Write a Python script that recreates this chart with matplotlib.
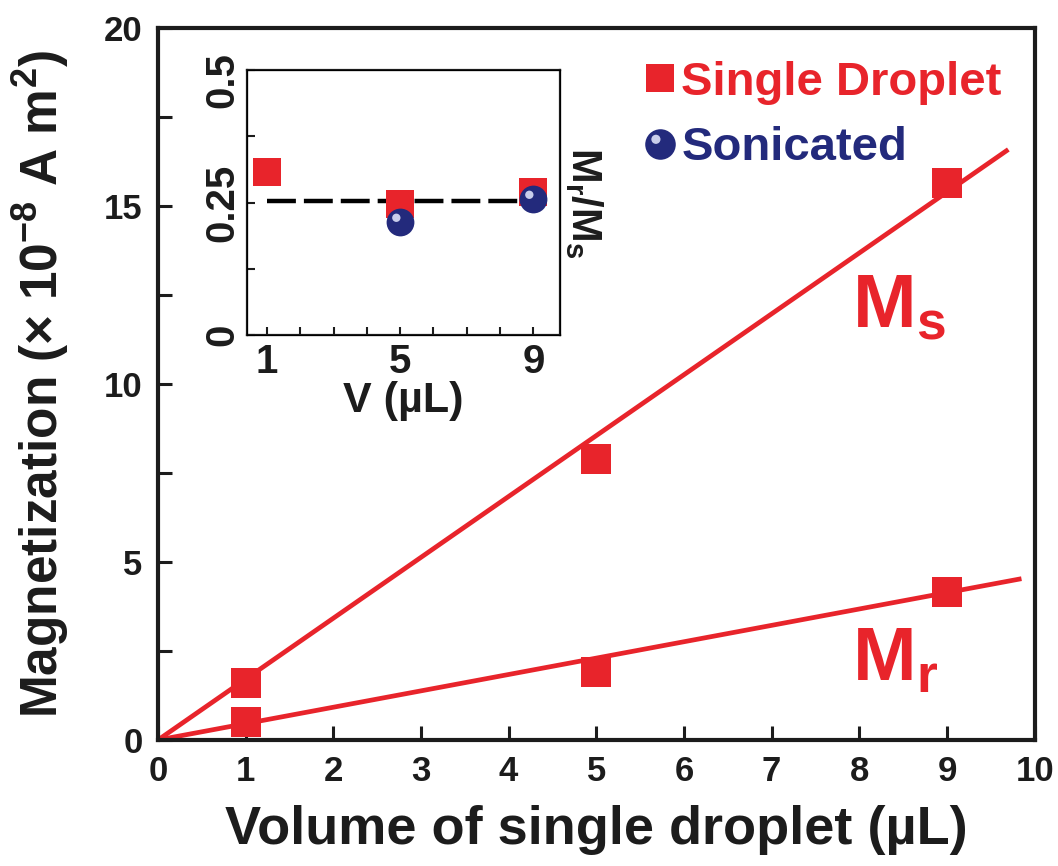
import numpy as np
import matplotlib
matplotlib.use("Agg")
import matplotlib.pyplot as plt
import matplotlib.transforms as mtransforms
from matplotlib.lines import Line2D
from matplotlib.path import Path
from matplotlib.ticker import MultipleLocator

plt.rcParams['font.family'] = ['Liberation Sans', 'DejaVu Sans']
plt.rcParams['font.weight'] = 'bold'
plt.rcParams['axes.labelweight'] = 'bold'
plt.rcParams['mathtext.fontset'] = 'custom'
plt.rcParams['mathtext.rm'] = 'Liberation Sans:bold'
plt.rcParams['mathtext.bf'] = 'Liberation Sans:bold'
plt.rcParams['mathtext.it'] = 'Liberation Sans:bold'
plt.rcParams['mathtext.default'] = 'rm'

# data
volume = [1, 5, 9]
ms_vals = [1.6, 7.9, 15.65]
mr_vals = [0.5, 1.9, 4.15]
ms_slope = 1.71
mr_slope = 0.46
ms_end = 9.7
mr_end = 9.85

ratio_single = [0.308, 0.248, 0.27]
sonic_volume = [5, 9]
ratio_sonic = [0.214, 0.256]
ratio_ref = 0.253

red = '#e8242b'
navy = '#232a7c'
dark = '#1c1c1c'

# highlight spot for the "sphere" markers (unit-circle coords, padded to keep scale)
hl = Path.circle(center=(-0.3, 0.34), radius=0.3)
hl_path = Path(np.vstack([hl.vertices, [[1.0, 1.0], [-1.0, -1.0]]]),
               np.concatenate([hl.codes, [Path.MOVETO, Path.MOVETO]]))
hl_col = '#c9cdeb'

fig = plt.figure(figsize=(10.58, 8.66), dpi=100)
ax = fig.add_axes([0.1493, 0.1455, 0.8286, 0.8222])

# fitted lines through origin
xs = np.array([0, ms_end])
ax.plot(xs, ms_slope * xs, color=red, lw=3.4, solid_capstyle='butt')
xr = np.array([0, mr_end])
ax.plot(xr, mr_slope * xr, color=red, lw=3.4, solid_capstyle='butt')
ax.plot(volume, ms_vals, 's', color=red, ms=21, mew=0)
ax.plot(volume, mr_vals, 's', color=red, ms=21, mew=0)

ax.text(7.92, 11.6, r'$\mathbf{M}_\mathbf{s}$', color=red, fontsize=55, ha='left', va='baseline')
ax.text(7.92, 1.69, r'$\mathbf{M}_\mathbf{r}$', color=red, fontsize=55, ha='left', va='baseline')

ax.set_xlim(0, 10)
ax.set_ylim(0, 20)
ax.xaxis.set_major_locator(MultipleLocator(1))
ax.yaxis.set_major_locator(MultipleLocator(5))
ax.yaxis.set_minor_locator(MultipleLocator(2.5))
ax.tick_params(which='both', direction='in', length=10, width=2.2, top=False, right=False,
               labelsize=25, pad=11, colors=dark)
for s in ax.spines.values():
    s.set_linewidth(3)
    s.set_color(dark)
ax.set_xlabel('Volume of single droplet (µL)', fontsize=39, color=dark, labelpad=12)
ax.set_ylabel(r'Magnetization ($\times$ 10$^{-8}$ A m$^2$)', fontsize=37, color=dark, labelpad=24)

# legend
h1 = Line2D([], [], marker='s', ls='none', color=red, ms=20, mew=0)
h2a = Line2D([], [], marker='o', ls='none', color=navy, ms=22, mew=0)
h2b = Line2D([], [], marker=hl_path, ls='none', color=hl_col, ms=22, mew=0)
leg = ax.legend([h1, (h2a, h2b)], ['Single Droplet', 'Sonicated'], loc='upper right',
                bbox_to_anchor=(1.0, 1.0), frameon=False, fontsize=34,
                handlelength=0.7, handletextpad=0.1, labelspacing=0.45,
                borderaxespad=0.3, labelcolor=[red, navy])

# inset
ins = fig.add_axes([0.2335, 0.613, 0.2958, 0.306])
ins.hlines(ratio_ref, 1, 9, colors='black', lw=3.2, linestyles=(0, (6.5, 1.8)), zorder=2)
ins.plot(volume, ratio_single, 's', color=red, ms=19.5, mew=0, zorder=3)
ins.plot(sonic_volume, ratio_sonic, 'o', color=navy, ms=20, mew=0, zorder=4)
ins.plot(sonic_volume, ratio_sonic, marker=hl_path, ls='none', color=hl_col, ms=20, mew=0, zorder=5)
ins.set_xlim(0.4, 9.8)
ins.set_ylim(0, 0.5)
ins.set_xticks(volume)
ins.xaxis.set_minor_locator(MultipleLocator(1))
ins.set_yticks([0, 0.25, 0.5], labels=['0', '0.25', '0.5'], rotation=90, va='center')
ins.yaxis.set_minor_locator(MultipleLocator(0.125))
ins.tick_params(which='both', direction='in', length=6, width=1.5, top=False, right=True,
                labelsize=29, pad=6, colors=dark)
ins.tick_params(axis='y', pad=4)
# top label sits a little lower, as in the original
top_lbl = ins.get_yticklabels()[-1]
top_lbl.set_transform(top_lbl.get_transform() +
                      mtransforms.ScaledTranslation(0, -0.1, fig.dpi_scale_trans))
for s in ins.spines.values():
    s.set_linewidth(1.6)
    s.set_color(dark)
ins.set_xlabel('V (µL)', fontsize=31, color=dark, labelpad=0)
ins2 = ins.twinx()
ins2.set_yticks([])
ins2.set_ylabel(r'$\mathbf{M}_\mathbf{r}\mathbf{/M}_\mathbf{s}$', fontsize=30, color=dark,
                rotation=270, labelpad=32)

fig.savefig('out.png', dpi=100)
